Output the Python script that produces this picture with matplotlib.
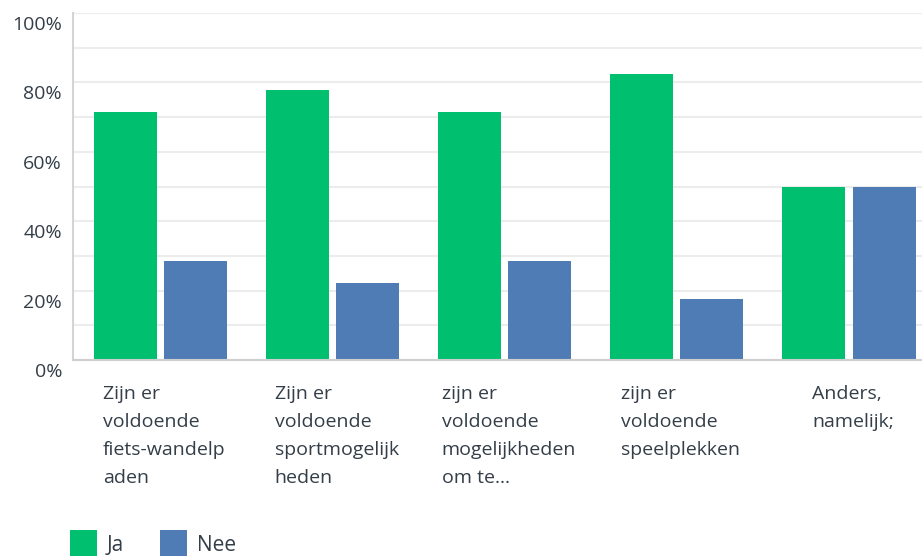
import matplotlib.pyplot as plt
import matplotlib.transforms as mtransforms
from matplotlib.patches import Patch
import numpy as np

plt.rcParams['font.family'] = ['Open Sans', 'DejaVu Sans']

# data
categories = ["Zijn er\nvoldoende\nfiets-wandelp\naden",
              "Zijn er\nvoldoende\nsportmogelijk\nheden",
              "zijn er\nvoldoende\nmogelijkheden\nom te...",
              "zijn er\nvoldoende\nspeelplekken",
              "Anders,\nnamelijk;"]
ja = [71.43, 77.78, 71.43, 82.35, 50.0]
nee = [28.57, 22.22, 28.57, 17.65, 50.0]
yticks = [0, 20, 40, 60, 80, 100]
series_names = ["Ja", "Nee"]

green = '#00bf6f'
blue = '#507cb6'
textcol = '#333e48'

fig = plt.figure(figsize=(9.22, 5.56), dpi=100)
ax = fig.add_axes([73 / 922, 1 - 360 / 556, 1 - 73 / 922, (360 - 13) / 556])

x = np.arange(len(categories))
w = 0.366
off = 0.2035
ax.bar(x - off, ja, width=w, color=green, zorder=3)
ax.bar(x + off, nee, width=w, color=blue, zorder=3)

ax.set_xlim(-0.508, 4.424)
ax.set_ylim(0, 100)

# grid every 10%
for g in range(10, 101, 10):
    ax.axhline(g, color='#ececec', lw=1.5, zorder=1)

for s in ['top', 'right']:
    ax.spines[s].set_visible(False)
ax.spines['left'].set_color('#d4d4d4')
ax.spines['left'].set_linewidth(1.5)
ax.spines['bottom'].set_color('#cfcfcf')
ax.spines['bottom'].set_linewidth(1.5)
ax.spines['bottom'].set_zorder(4)

ax.set_xticks([])
ax.set_yticks([])

# y labels, shifted down a bit like the original
ytr = mtransforms.offset_copy(ax.get_yaxis_transform(), fig=fig, x=-11, y=-12, units='dots')
for t in yticks:
    ax.text(0, t, f"{t}%", transform=ytr, ha='right', va='center',
            fontsize=14, color=textcol)

# category labels
xtr = mtransforms.offset_copy(ax.get_xaxis_transform(), fig=fig, x=4, y=-25, units='dots')
for i, lab in enumerate(categories):
    ax.text(i, 0, lab, transform=xtr, ha='center', va='top', multialignment='left',
            fontsize=14, color=textcol, linespacing=1.72)

handles = [Patch(facecolor=green, edgecolor='none'), Patch(facecolor=blue, edgecolor='none')]
leg = fig.legend(handles, series_names, loc='upper left',
                 bbox_to_anchor=(70 / 922, 1 - 530 / 556), ncol=2, frameon=False,
                 fontsize=15, handlelength=1.3, handleheight=1.8, handletextpad=0.45,
                 columnspacing=1.75, borderpad=0, borderaxespad=0)
for t in leg.get_texts():
    t.set_color(textcol)

fig.savefig('out.png', dpi=100)
